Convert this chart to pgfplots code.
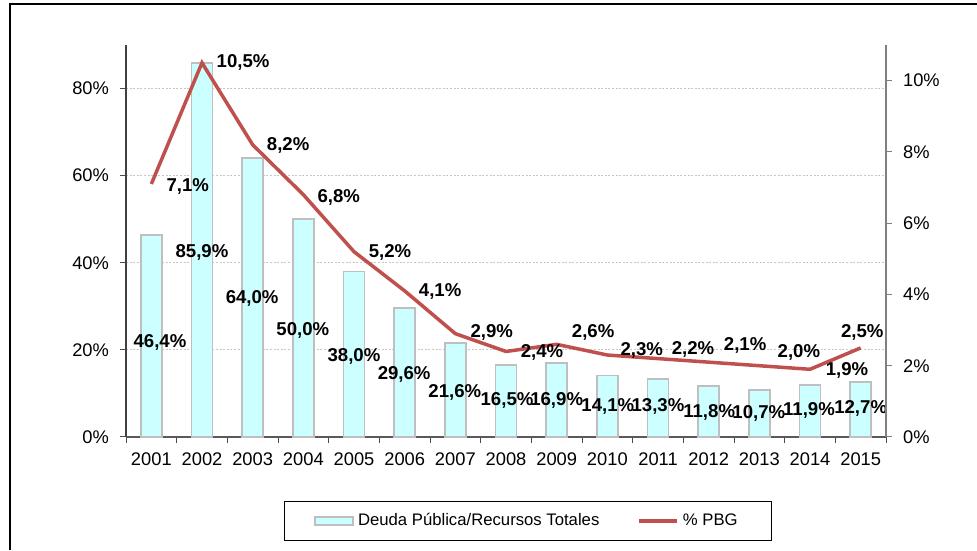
\documentclass[border=0pt]{standalone}
\usepackage{pgfplots}
\pgfplotsset{compat=1.18}
\usepackage{fontspec}
\setmainfont{Liberation Sans}
\definecolor{barfill}{HTML}{CCFFFF}
\definecolor{baredge}{HTML}{BFBFBF}
\definecolor{linered}{HTML}{C0504D}
\newcommand{\tickfont}{\fontsize{9.15}{10}\selectfont}
\newcommand{\lblfont}{\bfseries\fontsize{9.3}{11}\selectfont}
\begin{document}
\begin{tikzpicture}
\useasboundingbox (-63pt,-56.5pt) rectangle (425.5pt,218.5pt);
\draw[line width=0.75pt] (-58pt,-56.5pt) -- (-58pt,216.5pt) -- (425.5pt,216.5pt);
\begin{axis}[
  at={(0pt,0pt)}, anchor=south west,
  scale only axis, width=380pt, height=196pt,
  xmin=-0.5, xmax=14.5, ymin=0, ymax=90,
  axis x line*=bottom, axis y line*=left,
  axis line style={-},
  x axis line style={draw=black!65, line width=0.6pt},
  y axis line style={draw=black!75, line width=0.6pt},
  xtick={-0.5,0.5,...,14.5},
  xticklabels={2001,2002,2003,2004,2005,2006,2007,2008,2009,2010,2011,2012,2013,2014,2015,{}},
  xticklabel style={xshift=12.67pt, yshift=-1.5pt, font=\tickfont},
  ytick={0,20,40,60,80},
  yticklabels={0\%,20\%,40\%,60\%,80\%},
  yticklabel style={font=\tickfont, xshift=-2pt},
  tick align=outside, major tick length=3pt,
  tick style={draw=black!70, line width=0.5pt},
  ymajorgrids, grid style={dash pattern=on 1pt off 0.8pt, draw=black!22, line width=0.4pt},
  clip=false,
]
\addplot[ybar, bar width=10.5pt, fill=barfill, draw=baredge, line width=0.9pt]
  coordinates {(0,46.4) (1,85.9) (2,64.0) (3,50.0) (4,38.0) (5,29.6) (6,21.6) (7,16.5) (8,16.9) (9,14.1) (10,13.3) (11,11.8) (12,10.7) (13,11.9) (14,12.7)};
\addplot[draw=none, mark=none, point meta=explicit symbolic,
  nodes near coords={\pgfplotspointmeta\%},
  every node near coord/.append style={anchor=center, font=\lblfont, inner sep=0pt}]
  table[meta=l] {
x y l
0.17 21.8 46,4
1.0 42.4 85,9
1.99 31.9 64,0
2.99 24.5 50,0
4.0 18.6 38,0
4.99 14.4 29,6
5.99 10.3 21,6
7.02 8.5 16,5
8.0 8.5 16,9
9.01 6.9 14,1
10.0 6.9 13,3
11.01 5.7 11,8
11.99 5.3 10,7
12.98 6.0 11,9
14.0 6.6 12,7
};
\end{axis}
\begin{axis}[
  at={(0pt,0pt)}, anchor=south west,
  scale only axis, width=380pt, height=196pt,
  xmin=-0.5, xmax=14.5, ymin=0, ymax=11,
  axis x line=none, axis y line*=right,
  axis line style={-},
  y axis line style={draw=black!50, line width=0.6pt},
  ytick={0,2,4,6,8,10},
  yticklabels={0\%,2\%,4\%,6\%,8\%,10\%},
  yticklabel style={font=\tickfont, xshift=2pt},
  tick align=outside, major tick length=3pt,
  tick style={draw=black!50, line width=0.5pt},
  clip=false,
  legend columns=2,
  legend style={at={(0.529,-0.214)}, anchor=center, draw=black, line width=0.6pt,
    font=\fontsize{8.35}{10}\selectfont, inner xsep=15pt, inner ysep=4pt,
    /tikz/every even column/.append style={column sep=17pt}},
  legend cell align=left,
]
\addlegendimage{legend image code/.code={\draw[fill=barfill, draw=baredge, line width=0.8pt] (0pt,-2pt) rectangle (19pt,2pt);}}
\addlegendentry{Deuda Pública/Recursos Totales}
\addplot[linered, line width=1.75pt, mark=none,
  legend image code/.code={\draw[linered, line width=1.75pt] (0pt,0pt) -- (19pt,0pt);}]
  coordinates {(0,7.1) (1,10.5) (2,8.2) (3,6.8) (4,5.2) (5,4.1) (6,2.9) (7,2.4) (8,2.6) (9,2.3) (10,2.2) (11,2.1) (12,2.0) (13,1.9) (14,2.5)};
\addlegendentry{\% PBG}
\addplot[draw=none, mark=none, point meta=explicit symbolic,
  nodes near coords={\pgfplotspointmeta\%},
  every node near coord/.append style={anchor=center, font=\lblfont, inner sep=0pt}]
  table[meta=l] {
x y l
0.72 7.02 7,1
1.81 10.5 10,5
2.70 8.17 8,2
3.70 6.71 6,8
4.71 5.17 5,2
5.70 4.07 4,1
6.72 2.92 2,9
7.71 2.36 2,4
8.72 2.92 2,6
9.68 2.44 2,3
10.69 2.47 2,2
11.72 2.58 2,1
12.78 2.36 2,0
13.73 1.88 1,9
14.03 2.92 2,5
};
\end{axis}
\end{tikzpicture}
\end{document}
